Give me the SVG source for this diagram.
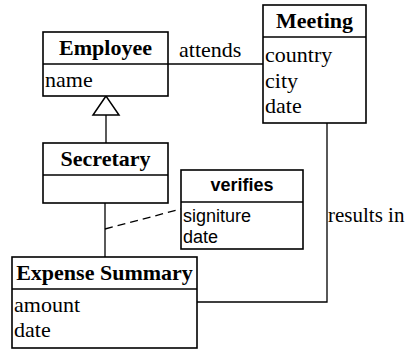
<svg xmlns="http://www.w3.org/2000/svg" width="413" height="350" viewBox="0 0 413 350">
<style>
.box{fill:#fff;stroke:#000;stroke-width:1.6}
.ln{fill:none;stroke:#000;stroke-width:1.3}
.t{font-family:"Liberation Serif","Times New Roman",serif;font-size:22px;fill:#000}
.tb{font-family:"Liberation Serif","Times New Roman",serif;font-size:22px;font-weight:bold;fill:#000;text-anchor:middle}
.s{font-family:"Liberation Sans",Arial,sans-serif;font-size:18px;fill:#000}
.sb{font-family:"Liberation Sans",Arial,sans-serif;font-size:18px;font-weight:bold;fill:#000;text-anchor:middle}
</style>
<rect width="413" height="350" fill="#fff"/>
<g id="connectors">
<line class="ln" x1="168" y1="64" x2="263" y2="64"/>
<text class="t" x="179" y="57">attends</text>
<line class="ln" x1="106" y1="115" x2="106" y2="143"/>
<polygon points="106,96 93,115 119,115" fill="#fff" stroke="#000" stroke-width="1.5"/>
<line class="ln" x1="105" y1="203" x2="105" y2="257"/>
<line class="ln" x1="105" y1="229" x2="181" y2="209" stroke-dasharray="8,5"/>
<polyline class="ln" points="327,123 327,302 197,302"/>
<text class="t" x="328" y="222" style="font-size:21px">results in</text>
</g>
<g id="employee">
<rect class="box" x="43" y="32" width="125" height="64"/>
<line class="box" x1="43" y1="64" x2="168" y2="64"/>
<text class="tb" x="105.5" y="55">Employee</text>
<text class="t" x="45" y="87">name</text>
</g>
<g id="secretary">
<rect class="box" x="43" y="143" width="125" height="60"/>
<line class="box" x1="43" y1="175" x2="168" y2="175"/>
<text class="tb" x="105.5" y="166">Secretary</text>
</g>
<g id="meeting">
<rect class="box" x="263" y="5" width="103" height="118"/>
<line class="box" x1="263" y1="37" x2="366" y2="37"/>
<text class="tb" x="314.5" y="28">Meeting</text>
<text class="t" x="265" y="62">country</text>
<text class="t" x="265" y="88">city</text>
<text class="t" x="265" y="113">date</text>
</g>
<g id="verifies">
<rect class="box" x="181" y="170" width="122" height="79"/>
<line class="box" x1="181" y1="202" x2="303" y2="202"/>
<text class="sb" x="242" y="191">verifies</text>
<text class="s" x="183" y="222">signiture</text>
<text class="s" x="183" y="243">date</text>
</g>
<g id="expense-summary">
<rect class="box" x="12" y="257" width="185" height="91"/>
<line class="box" x1="12" y1="289" x2="197" y2="289"/>
<text class="tb" x="104.5" y="280">Expense Summary</text>
<text class="t" x="14" y="312">amount</text>
<text class="t" x="14" y="337">date</text>
</g>
</svg>
